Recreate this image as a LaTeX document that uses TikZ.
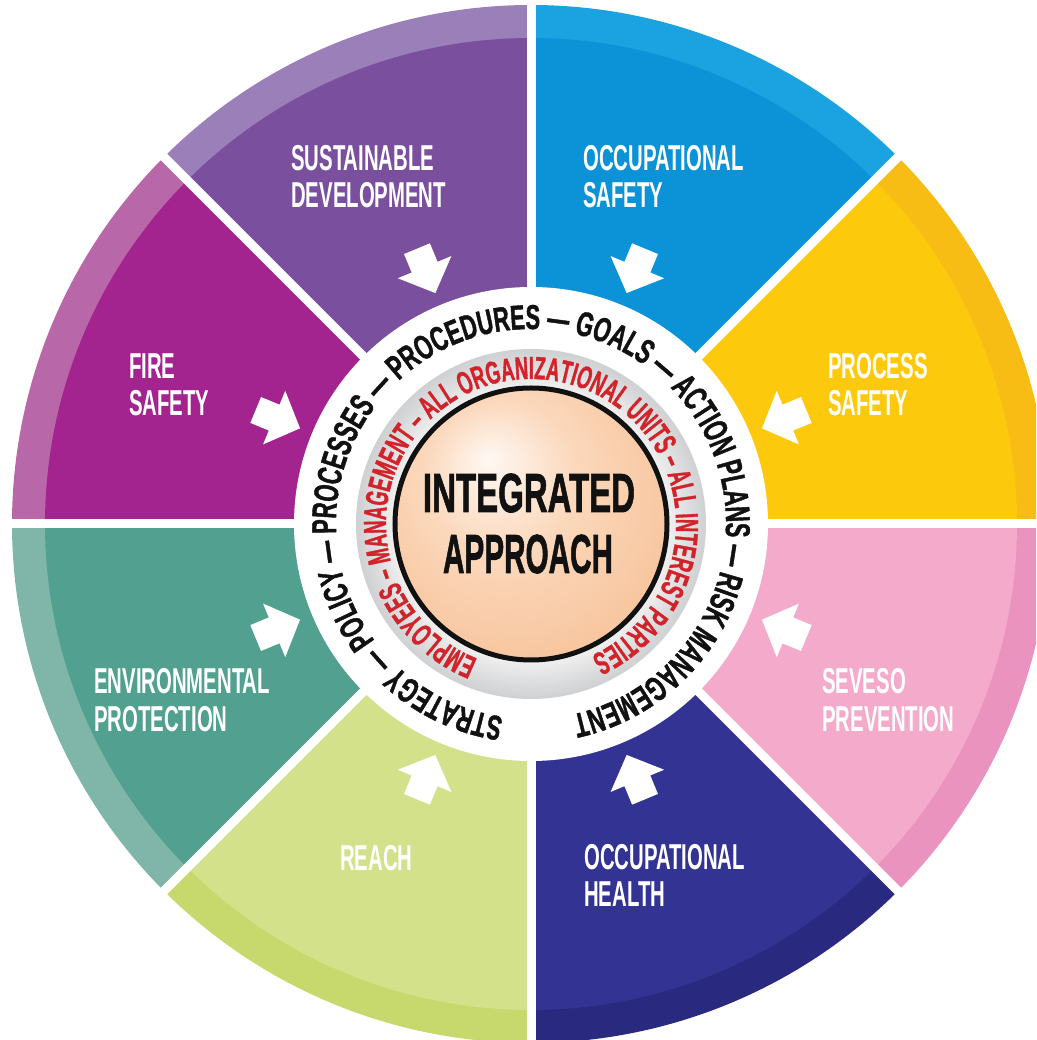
\documentclass[tikz,border=0pt]{standalone}
\usepackage{fontspec}
\usepackage{graphicx}
\setmainfont{Liberation Sans}
\newfontfamily\labelfont[FakeStretch=0.565]{Liberation Sans}
\newfontfamily\ringfont[FakeStretch=0.635, FakeBold=1.2]{Liberation Sans}
\newfontfamily\redfont[FakeStretch=0.575, FakeBold=1.0]{Liberation Sans}
\newfontfamily\centerfont[FakeBold=1.6]{Liberation Sans}
\usetikzlibrary{decorations.text}

\definecolor{cPurple}{HTML}{7A4F9E}
\definecolor{cPurpleB}{HTML}{9B7FB9}
\definecolor{cBlue}{HTML}{0B92D7}
\definecolor{cBlueB}{HTML}{1AA3E0}
\definecolor{cYellow}{HTML}{FDC90C}
\definecolor{cYellowB}{HTML}{F8BD14}
\definecolor{cPink}{HTML}{F4AACB}
\definecolor{cPinkB}{HTML}{E993BE}
\definecolor{cNavy}{HTML}{333393}
\definecolor{cNavyB}{HTML}{29297F}
\definecolor{cLime}{HTML}{D4E18B}
\definecolor{cLimeB}{HTML}{C7D86C}
\definecolor{cTeal}{HTML}{52A08F}
\definecolor{cTealB}{HTML}{7FB6A9}
\definecolor{cMagenta}{HTML}{A3248F}
\definecolor{cMagentaB}{HTML}{B868A9}
\definecolor{ringRed}{HTML}{D2232A}
\definecolor{ringBlack}{HTML}{111111}
\definecolor{ringGray}{HTML}{CFD0D2}
\definecolor{ringLight}{HTML}{F0F0F0}
\definecolor{peachHi}{HTML}{FFF8F2}
\definecolor{peachMid}{HTML}{FBD8BC}
\definecolor{peachLo}{HTML}{F6BD90}

\pgfdeclareradialshading{grayring}{\pgfpoint{0bp}{0bp}}{%
  color(0bp)=(ringLight); color(19.5bp)=(ringLight); color(25bp)=(ringGray); color(50bp)=(ringGray)}
\pgfdeclareradialshading{peachball}{\pgfpoint{-8bp}{12bp}}{%
  color(0bp)=(peachHi); color(14bp)=(peachMid); color(38bp)=(peachLo); color(50bp)=(peachLo)}

\tikzset{
  lbl/.style={text=white, inner sep=0pt, anchor=base west,
    font=\labelfont\bfseries\fontsize{36}{36}\selectfont},
  ctr/.style={text=ringBlack, inner sep=0pt, anchor=base,
    font=\centerfont\bfseries\fontsize{55}{55}\selectfont},
  gapline/.style={white, line width=9pt},
  blockarrow/.style={fill=white}
}

\begin{document}
\begin{tikzpicture}[x=1pt, y=1pt]
\useasboundingbox (-531,-516) rectangle (505,524);
\clip (-531,-516) rectangle (505,524);

% sectors with outer bands
\foreach \a/\m/\b in {0/cYellow/cYellowB, 45/cBlue/cBlueB, 90/cPurple/cPurpleB,
  135/cMagenta/cMagentaB, 180/cTeal/cTealB, 225/cLime/cLimeB,
  270/cNavy/cNavyB, 315/cPink/cPinkB}{
  \fill[\b] (0,0) -- (\a:519) arc[start angle=\a, end angle=\a+45, radius=519] -- cycle;
  \fill[\m] (0,0) -- (\a:486) arc[start angle=\a, end angle=\a+45, radius=486] -- cycle;
}
% white gaps
\foreach \a in {0,45,...,315}{
  \draw[gapline] (0,0) -- (\a:560);
}

% white ring, gray ring, centre
\fill[white] (0,0) circle[radius=237];
\shade[shading=grayring] (0,0) circle[radius=175];
\shade[shading=peachball] (0,0) circle[radius=136];
\draw[ringBlack, line width=5pt] (0,0) circle[radius=136];

% arrows
\foreach \a in {22.5,67.5,...,337.5}{
  \fill[blockarrow, shift={(\a:250)}, rotate=\a+180]
    (0,0) -- (-28,29) -- (-28,14) -- (-48,14) -- (-48,-14) -- (-28,-14) -- (-28,-29) -- cycle;
}

% ring texts
\path[decorate, decoration={text along path, text align=center, text color=ringBlack,
  text={|\ringfont\bfseries\fontsize{34.5}{34.5}\selectfont|STRATEGY — POLICY — PROCESSES — PROCEDURES — GOALS — ACTION PLANS — RISK MANAGEMENT}}]
  (272:195) arc[start angle=272, end angle=-88, radius=195];
\path[decorate, decoration={text along path, text align=center, text color=ringRed,
  text={|\redfont\bfseries\fontsize{32}{32}\selectfont|EMPLOYEES – MANAGEMENT – ALL ORGANIZATIONAL UNITS – ALL INTEREST PARTIES}}]
  (271.5:145) arc[start angle=271.5, end angle=-88.5, radius=145];

% centre text
\node[ctr] (int) at (-2,12) {\scalebox{0.6}[1]{INTEGRATED}};
\node[ctr] (app) at (-3,-49) {\scalebox{0.54}[1]{APPROACH}};

% sector labels
\node[lbl] (sd1) at (-240,353) {SUSTAINABLE};
\node[lbl] (sd2) at (-240,316) {DEVELOPMENT};
\node[lbl] (os1) at (52,353) {OCCUPATIONAL};
\node[lbl] (os2) at (52,316) {SAFETY};
\node[lbl] (fs1) at (-402,145) {FIRE};
\node[lbl] (fs2) at (-402,108) {SAFETY};
\node[lbl] (ps1) at (297,145) {PROCESS};
\node[lbl] (ps2) at (297,108) {SAFETY};
\node[lbl] (ep1) at (-437,-170) {ENVIRONMENTAL};
\node[lbl] (ep2) at (-437,-207) {PROTECTION};
\node[lbl] (sp1) at (291,-170) {SEVESO};
\node[lbl] (sp2) at (291,-207) {PREVENTION};
\node[lbl] (re1) at (-191,-346) {REACH};
\node[lbl] (oh1) at (53,-345) {OCCUPATIONAL};
\node[lbl] (oh2) at (53,-382) {HEALTH};
\end{tikzpicture}
\end{document}
